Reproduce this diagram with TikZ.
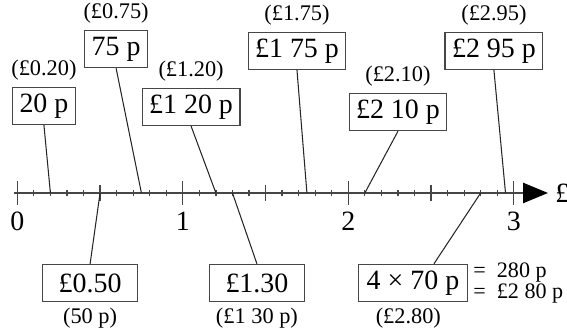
\documentclass[12pt,tikz,border=0pt]{standalone}
\usepackage{fontspec}
\setmainfont{Liberation Serif}
\usetikzlibrary{arrows.meta,positioning}
\definecolor{inkgrey}{RGB}{70,70,70}
\tikzset{
  price box/.style={
    rectangle, draw=inkgrey, line width=0.5pt, fill=white,
    minimum height=16pt, inner xsep=3pt, inner ysep=1.5pt
  },
  sum box/.style={price box, minimum width=41pt},
  price note/.style={inner sep=1pt, font=\fontsize{9.6}{11}\selectfont},
  tick label/.style={inner sep=1pt},
  price link/.style={draw=black!85, line width=0.45pt},
  number line/.style={inkgrey, line width=0.9pt,
    -{Triangle[length=10.7pt,width=8.6pt,color=black]}},
  tick mark/.style={inkgrey, line width=0.55pt}
}

\begin{document}
\begin{tikzpicture}[x=2.5cm, y=2.5cm, node distance=1.5pt]
  \useasboundingbox (-0.1045,-0.816) rectangle (3.3215,1.166);
  % number line and ticks
  \coordinate (axis end) at (3.207,0);
  \draw[number line] (-0.02,0) -- (axis end);
  \node[tick label, right=2pt of axis end] (unit) {£};
  \foreach \k in {1,...,29}
    \draw[tick mark] (\k/10,-0.021) -- (\k/10,0.021);
  \foreach \h in {0.5,1.5,2.5}
    \draw[tick mark] (\h,-0.048) -- (\h,0.048);
  \foreach \n in {0,...,3} {
    \draw[tick mark] (\n,-0.07) -- (\n,0.07);
    \node[tick label, below=2pt] (tick \n) at (\n,-0.07) {\n};
  }
  % values on the line
  \coordinate (v020) at (0.20,0);
  \coordinate (v050) at (0.50,0);
  \coordinate (v075) at (0.75,0);
  \coordinate (v120) at (1.20,0);
  \coordinate (v130) at (1.30,0);
  \coordinate (v175) at (1.75,0);
  \coordinate (v210) at (2.10,0);
  \coordinate (v280) at (2.80,0);
  \coordinate (v295) at (2.95,0);
  % prices above the line
  \node[price box] (p020) at (0.161,0.526) {20 p};
  \node[price note, above=of p020] (p020 note) {(£0.20)};
  \node[price box] (p075) at (0.597,0.870) {75 p};
  \node[price note, above=of p075] (p075 note) {(£0.75)};
  \node[price box] (p120) at (1.050,0.520) {£1 20 p};
  \node[price note, above=of p120] (p120 note) {(£1.20)};
  \node[price box] (p175) at (1.690,0.858) {£1 75 p};
  \node[price note, above=of p175] (p175 note) {(£1.75)};
  \node[price box] (p210) at (2.300,0.489) {£2 10 p};
  \node[price note, above=of p210] (p210 note) {(£2.10)};
  \node[price box] (p295) at (2.880,0.858) {£2 95 p};
  \node[price note, above=of p295] (p295 note) {(£2.95)};
  % prices below the line
  \node[sum box] (p050) at (0.440,-0.544) {£0.50};
  \node[price note, below=of p050] (p050 note) {(50 p)};
  \node[sum box] (p130) at (1.448,-0.544) {£1.30};
  \node[price note, below=of p130] (p130 note) {(£1 30 p)};
  \node[sum box, minimum width=47pt] (p280) at (2.391,-0.544) {4 × 70 p};
  \node[price note, below=of p280, xshift=-2pt] (p280 note) {(£2.80)};
  \node[price note, right=1pt of p280, align=left,
    font=\fontsize{9.5}{7.8}\selectfont] (p280 sum) {=\enspace 280 p\\=\enspace £2 80 p};
  % links
  \draw[price link] (p020.south) -- (v020);
  \draw[price link] (p075.south) -- (v075);
  \draw[price link] (p120.south) -- (v120);
  \draw[price link] (p175.south) -- (v175);
  \draw[price link] (p210.south) -- (v210);
  \draw[price link] (p295.south) -- (v295);
  \draw[price link] (p050.north) -- (v050);
  \draw[price link] (p130.north) -- (v130);
  \draw[price link] ([xshift=9pt]p280.north) -- (v280);
\end{tikzpicture}
\end{document}
